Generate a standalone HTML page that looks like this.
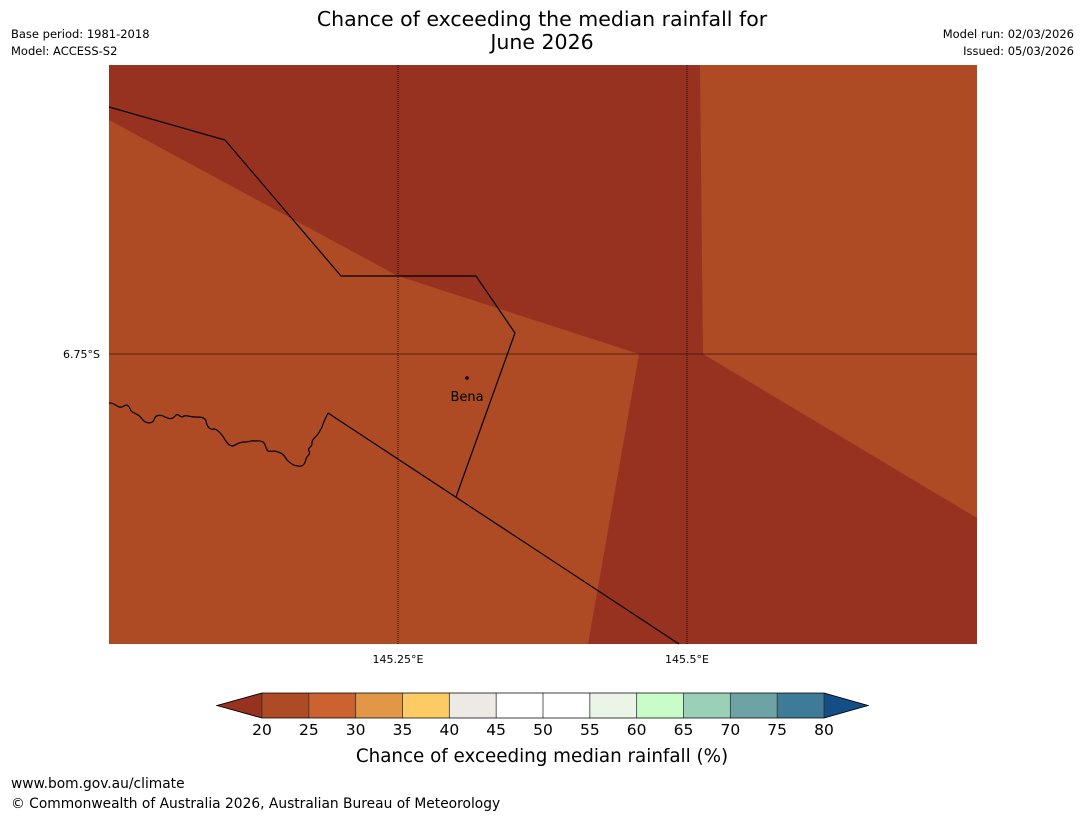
<!DOCTYPE html>
<html><head><meta charset="utf-8">
<style>
body{margin:0;background:#fff;width:1085px;height:816px;overflow:hidden;font-family:"DejaVu Sans","Liberation Sans",sans-serif;}
svg{display:block}
</style></head><body>
<svg id="s" width="1085" height="816" viewBox="0 0 1085 816">
<text x="542" y="26" text-anchor="middle" font-size="20.5">Chance of exceeding the median rainfall for</text>
<text x="542" y="49" text-anchor="middle" font-size="20.5">June 2026</text>
<text x="11" y="38" font-size="11.5">Base period: 1981-2018</text>
<text x="11" y="55" font-size="11.5">Model: ACCESS-S2</text>
<text x="1074" y="38" font-size="11.5" text-anchor="end">Model run: 02/03/2026</text>
<text x="1074" y="55" font-size="11.5" text-anchor="end">Issued: 05/03/2026</text>

<g>
<rect x="109" y="65" width="868" height="579" fill="#973220"/>
<polygon points="109,120 398,276 639,354 588,644 109,644" fill="#ae4b25"/>
<polygon points="700,65 977,65 977,518 703,354" fill="#ae4b25"/>
<line x1="398" y1="65" x2="398" y2="644" stroke="#000" stroke-width="0.8" stroke-dasharray="1,1"/>
<line x1="687" y1="65" x2="687" y2="644" stroke="#000" stroke-width="0.8" stroke-dasharray="1,1"/>
<line x1="109" y1="354" x2="977" y2="354" stroke="#3a1408" stroke-width="0.8"/>
<polyline points="109,107 225,140 341,276 476,276 515,333 456,497" fill="none" stroke="#000" stroke-width="1.2"/>
<polyline points="328,413 679,644" fill="none" stroke="#000" stroke-width="1.2"/>
<path d="M109,403 C115,402 118,410 124,406 C128,403 130,408 131,411 C134,414 138,413 142,419 C146,424 152,424 154,420 C155,415 160,414 165,417 C170,419 172,420 176,415 C179,413 180,419 184,416 C187,415 190,417 195,417 C200,417 205,417 206,421 C207,427 210,430 214,429 C217,429 219,432 222,435 C226,441 228,446 233,446 C236,445 238,442 245,442 C250,442 252,440 255,441 C258,441 260,440 263,442 C266,444 265,448 268,451 C272,452 274,450 278,452 C282,453 284,455 287,460 C290,463 294,466 298,466 C303,467 305,464 306,459 C307,455 311,455 309,451 C307,448 312,447 312,444 C311,440 316,437 318,434 C320,431 322,428 323,424 C325,419 327,415 328,413" fill="none" stroke="#000" stroke-width="1.2"/>
<circle cx="467" cy="378" r="1.8" fill="#000"/>
<text x="467" y="401" font-size="13" text-anchor="middle">Bena</text>
</g>
<text x="100" y="358" font-size="11" text-anchor="end">6.75°S</text>
<text x="398" y="663" font-size="11" text-anchor="middle">145.25°E</text>
<text x="687" y="663" font-size="11" text-anchor="middle">145.5°E</text>

<g id="cb"></g>
<text x="542" y="762" font-size="18.3" text-anchor="middle">Chance of exceeding median rainfall (%)</text>
<text x="11" y="788" font-size="13.8">www.bom.gov.au/climate</text>
<text x="11" y="808" font-size="13.8">© Commonwealth of Australia 2026, Australian Bureau of Meteorology</text>
</svg>
<script>
const levels=[20,25,30,35,40,45,50,55,60,65,70,75,80];
const binColors=["#ae4b25","#cb622f","#e19648","#fdcb64","#ede9e5","#ffffff","#ffffff","#eaf5e8","#c8fcc8","#9bd0b8","#6ea3a6","#3f7a97"];
const underColor="#973220", overColor="#144e86";
const NS="http://www.w3.org/2000/svg";
const cb=document.getElementById('cb');
const x0=262,x1=824,y0=693,y1=718;
const xs=v=>x0+(v-levels[0])/(levels[levels.length-1]-levels[0])*(x1-x0);
function mk(t,a){const e=document.createElementNS(NS,t);for(const k in a)e.setAttribute(k,a[k]);cb.appendChild(e);return e;}
let p=mk('polygon',{points:`${x0},${y0} ${x0},${y1} 217,${(y0+y1)/2}`,fill:underColor,stroke:'#000','stroke-width':0.6});


p=mk('polygon',{points:`${x1},${y0} ${x1},${y1} 868,${(y0+y1)/2}`,fill:overColor,stroke:'#000','stroke-width':0.6});


for(let i=0;i<binColors.length;i++){
  const r=mk('rect',{x:xs(levels[i]),y:y0,width:xs(levels[i+1])-xs(levels[i]),height:y1-y0,fill:binColors[i]});
  
  
}
for(let i=0;i<levels.length;i++){
  const l=mk('line',{x1:xs(levels[i]),x2:xs(levels[i]),y1:y0,y2:y1,stroke:'#333','stroke-width':0.8});
  
  
  const t=mk('text',{x:xs(levels[i]),y:735,'font-size':15.5,'text-anchor':'middle'});
  t.textContent=levels[i];
  
  
}
const fr=mk('polygon',{points:`217,${(y0+y1)/2} ${x0},${y0} ${x1},${y0} 868,${(y0+y1)/2} ${x1},${y1} ${x0},${y1}`,fill:'none',stroke:'#000','stroke-width':0.8});


</script>
</body></html>
